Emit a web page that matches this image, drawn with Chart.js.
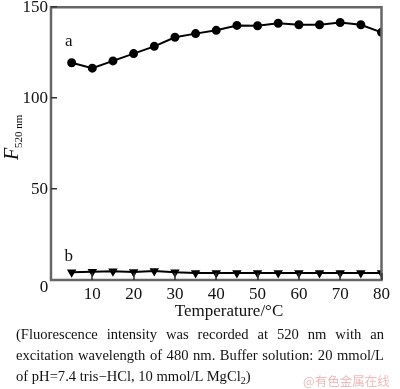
<!DOCTYPE html>
<html><head><meta charset="utf-8">
<script src="https://cdn.jsdelivr.net/npm/chart.js@4.4.0/dist/chart.umd.min.js"></script>
<style>
html,body{margin:0;padding:0;background:#fff;}
#wrap{position:relative;width:400px;height:389px;overflow:hidden;}
#c{position:absolute;left:0;top:0;}
#cap{position:absolute;left:16px;top:324px;width:368px;font-family:"Liberation Serif","Times New Roman",serif;font-size:14.6px;line-height:21px;color:#111;text-align:justify;}
#cap sub{font-size:10px;line-height:0;vertical-align:-3px;}
#wm{position:absolute;left:303px;top:371px;font-family:"Noto Sans CJK SC",sans-serif;font-size:12.5px;color:#f2b9b9;white-space:nowrap;}
</style></head>
<body><div id="wrap"><canvas id="c" width="400" height="389"></canvas>
<div id="cap">(Fluorescence intensity was recorded at 520 nm with an excitation wavelength of 480 nm. Buffer solution: 20 mmol/L of pH=7.4 tris−HCl, 10 mmol/L MgCl<sub>2</sub>)</div>
<div id="wm">@有色金属在线</div>
</div>
<script>
const temperatures = [5,10,15,20,25,30,35,40,45,50,55,60,65,70,75,80];
const seriesA = [119.5,116.5,120.5,124.5,128.5,133.5,135.5,137.3,140,139.8,141.2,140.4,140.4,141.6,140.4,136.2];
const seriesB = [4.3,4.6,4.8,4.4,5.0,4.2,3.8,3.8,3.9,3.8,3.8,3.8,3.8,3.8,3.9,3.8];
const xTicks = [10,20,30,40,50,60,70,80];
const yTicks = [50,100,150];
const serif = '"Liberation Serif","Times New Roman",serif';

const pts = (ys) => temperatures.map((t,i)=>({x:t,y:ys[i]}));

const decor = {
  id:'decor',
  afterDraw(chart){
    const ctx = chart.ctx;
    const ca = chart.chartArea;
    const x = chart.scales.x, y = chart.scales.y;
    const L = ca.left, R = ca.right, T = ca.top, B = ca.bottom;
    ctx.save();
    ctx.strokeStyle='#666'; ctx.lineWidth=2.5;
    ctx.strokeRect(L, T, R-L, B-T);
    ctx.fillStyle='#333';
    yTicks.forEach(v=>{const py=Math.round(y.getPixelForValue(v)); ctx.fillRect(L, py-1, 6, 1.5);});
    xTicks.forEach(v=>{const px=Math.round(x.getPixelForValue(v)); ctx.fillRect(px-0.75, B-7, 1.5, 7);});
    ctx.fillStyle='#111';
    ctx.font='17px '+serif;
    ctx.textAlign='center'; ctx.textBaseline='middle';
    ctx.fillText('0', L-7, B+8);
    ctx.fillText('a', x.getPixelForValue(4.3), y.getPixelForValue(131));
    ctx.fillText('b', x.getPixelForValue(4.3), y.getPixelForValue(13));
    ctx.fillText('Temperature/°C', 229, 312);
    ctx.translate(13,152);
    ctx.rotate(-Math.PI/2);
    ctx.textAlign='left'; ctx.textBaseline='alphabetic';
    ctx.font='italic 20px '+serif;
    ctx.fillText('F', -8, 5);
    ctx.font='11px '+serif;
    ctx.fillText('520 nm', 4, 9);
    ctx.restore();
  }
};

new Chart(document.getElementById('c'), {
  type:'line',
  data:{datasets:[
    {label:'a', data:pts(seriesA), borderColor:'#000', backgroundColor:'#000', borderWidth:2,
     pointStyle:'circle', pointRadius:3.5, pointHoverRadius:3.5, tension:0},
    {label:'b', data:pts(seriesB), borderColor:'#000', backgroundColor:'#000', borderWidth:2,
     pointStyle:'triangle', pointRotation:180, pointRadius:3.5, pointHoverRadius:3.5, tension:0}
  ]},
  options:{
    responsive:false, animation:false, devicePixelRatio:1,
    layout:{padding:{left:0,right:8,top:5,bottom:67}},
    plugins:{legend:{display:false}, tooltip:{enabled:false}},
    scales:{
      x:{type:'linear', min:0, max:80,
         afterBuildTicks:(s)=>{s.ticks = xTicks.map(v=>({value:v}));},
         afterFit:(s)=>{s.height=42;},
         grid:{display:false, drawTicks:false}, border:{display:false},
         ticks:{color:'#111', font:{family:serif,size:17,lineHeight:0.5}, padding:10, maxRotation:0}},
      y:{type:'linear', min:0, max:150,
         afterBuildTicks:(s)=>{s.ticks = yTicks.map(v=>({value:v}));},
         afterFit:(s)=>{s.width=51;},
         grid:{display:false, drawTicks:false}, border:{display:false},
         ticks:{color:'#111', font:{family:serif,size:17,lineHeight:0.5}, padding:3}}
    }
  },
  plugins:[decor]
});
</script></body></html>
